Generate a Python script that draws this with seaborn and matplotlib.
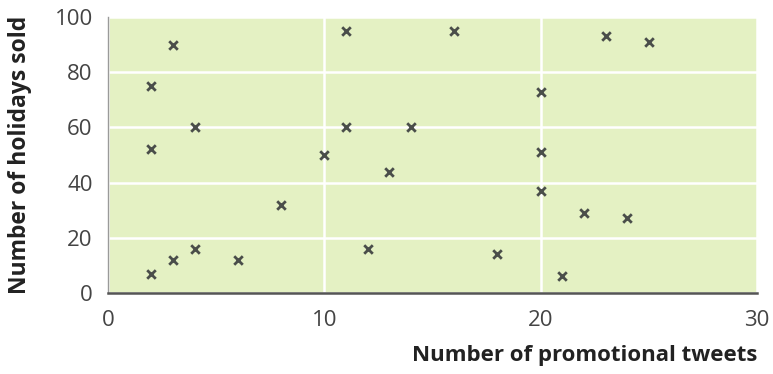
import matplotlib
matplotlib.use("Agg")
import matplotlib.pyplot as plt
import seaborn as sns
import pandas as pd

tweets = [2, 3, 4, 6, 2, 2, 3, 4, 8, 10, 11, 11, 12, 13, 14, 16, 18, 20, 20, 20, 21, 22, 23, 24, 25]
holidays = [7, 12, 16, 12, 52, 75, 90, 60, 32, 50, 95, 60, 16, 44, 60, 95, 14, 73, 51, 37, 6, 29, 93, 27, 91]
xticks = [0, 10, 20, 30]
yticks = [0, 20, 40, 60, 80, 100]

df = pd.DataFrame({"tweets": tweets, "holidays": holidays})

sns.set_theme(style="white")
plt.rcParams["font.family"] = ["Open Sans", "DejaVu Sans"]

fig = plt.figure(figsize=(7.73, 3.74), dpi=100)
ax = fig.add_axes([108 / 773, 1 - 293 / 374, (757 - 108) / 773, (293 - 17) / 374])
ax.set_facecolor("#e4f1c3")

sns.scatterplot(data=df, x="tweets", y="holidays", marker="x", color="#4a4e4a",
                s=38, linewidth=2.0, ax=ax, zorder=3)

ax.set_xlim(0, 30)
ax.set_ylim(0, 100)
ax.set_xticks(xticks)
ax.set_yticks(yticks)
ax.grid(True, color="white", linewidth=1.8, zorder=0)
ax.set_axisbelow(True)
for s in ["top", "right"]:
    ax.spines[s].set_visible(False)
ax.spines["left"].set_color("#9a9a9a")
ax.spines["left"].set_linewidth(1.0)
ax.spines["bottom"].set_color("#555555")
ax.spines["bottom"].set_linewidth(1.8)
ax.tick_params(axis="both", which="major", direction="out", length=8, width=0.8,
               color="#aaaaaa", labelsize=16, labelcolor="#444444", pad=3)
ax.tick_params(axis="x", pad=4)

ax.set_xlabel("Number of promotional tweets", fontsize=16, fontweight="bold",
              color="#222222", ha="right")
ax.xaxis.set_label_coords(1.0, -0.19)
ax.set_ylabel("Number of holidays sold", fontsize=16.5, fontweight="bold",
              color="#222222")
ax.yaxis.set_label_coords(-0.117, 0.5)

fig.savefig("out.png", dpi=100)
